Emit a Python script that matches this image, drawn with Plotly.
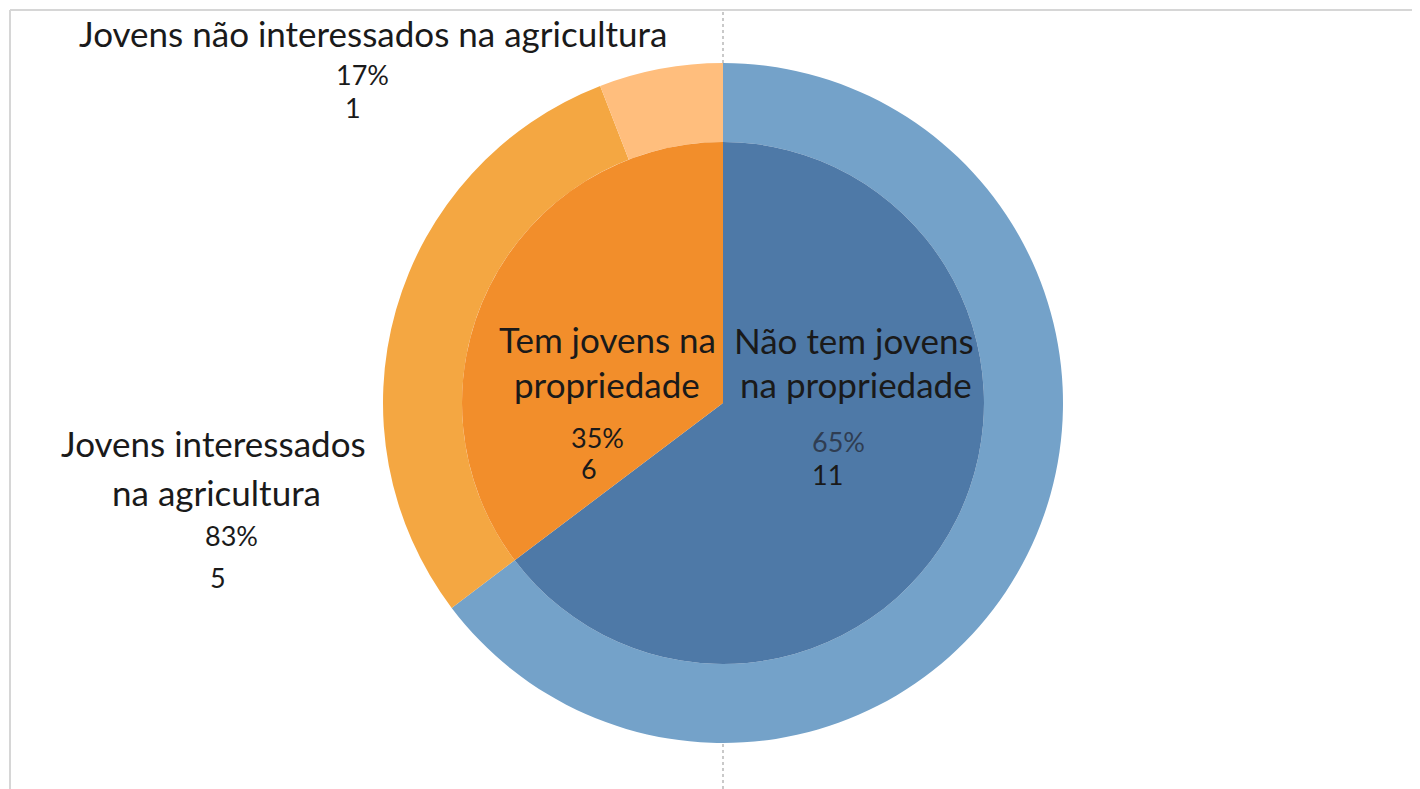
import plotly.graph_objects as go

# ---- data ----
inner_labels = ["Não tem jovens na propriedade", "Tem jovens na propriedade"]
inner_values = [11, 6]
outer_labels = ["Não tem jovens na propriedade", "Jovens interessados na agricultura",
                "Jovens não interessados na agricultura"]
outer_values = [11, 5, 1]
outer_parent_total = [11, 6, 6]

inner_colors = ["#4E79A7", "#F28E2B"]
outer_colors = ["#74A2C9", "#F4A742", "#FFBE7D"]

OFF = 8  # page body margin offset
W, H = 1420 - OFF, 789 - OFF
CX, CY = 723, 403
R_OUT, R_IN = 340, 261


def X(x):
    return (x - OFF) / W


def Y(y):
    return 1 - (y - OFF) / H


def px_dom(cx, cy, r):
    return dict(x=[X(cx - r), X(cx + r)], y=[Y(cy + r), Y(cy - r)])


fig = go.Figure()
fig.add_trace(go.Pie(
    labels=outer_labels, values=outer_values, sort=False, direction="clockwise",
    rotation=0, hole=R_IN / R_OUT, textinfo="none", hoverinfo="label+value",
    marker=dict(colors=outer_colors, line=dict(width=0)),
    domain=px_dom(CX, CY, R_OUT), showlegend=False,
))
fig.add_trace(go.Pie(
    labels=inner_labels, values=inner_values, sort=False, direction="clockwise",
    rotation=0, textinfo="none", hoverinfo="label+value",
    marker=dict(colors=inner_colors, line=dict(width=0)),
    domain=px_dom(CX, CY, R_IN), showlegend=False,
))

FONT = "Lato, 'Open Sans', sans-serif"
LBL = 35
NUM = 27
total = sum(inner_values)


def ann(text, x, y, size, color="#1a1a1a"):
    fig.add_annotation(text=text, x=X(x), y=Y(y), xref="paper", yref="paper",
                       showarrow=False, xanchor="center", yanchor="middle",
                       font=dict(family=FONT, size=size, color=color))


def pct(v, t):
    return f"{round(100 * v / t)}%"


def split2(label, k):
    w = label.split(" ")
    return " ".join(w[:k]), " ".join(w[k:])


# outer labels
ann(outer_labels[2], 373, 33, LBL)
ann(pct(outer_values[2], outer_parent_total[2]), 362, 74, NUM)
ann(str(outer_values[2]), 353, 107, NUM)

a, b = split2(outer_labels[1], 2)
ann(a, 213, 443, LBL)
ann(b, 216, 492, LBL)
ann(pct(outer_values[1], outer_parent_total[1]), 231, 535, NUM)
ann(str(outer_values[1]), 218, 577, NUM)

# inner labels
a, b = split2(inner_labels[1], 3)
ann(a, 607, 339, LBL)
ann(b, 607, 384, LBL)
ann(pct(inner_values[1], total), 597, 437, NUM)
ann(str(inner_values[1]), 589, 469, NUM)

a, b = split2(inner_labels[0], 3)
ann(a, 854, 340, LBL)
ann(b, 856, 384, LBL)
ann(pct(inner_values[0], total), 838, 441, NUM, "#2f3d52")
ann(str(inner_values[0]), 827, 474, NUM)

# frame lines and dotted guide
fig.add_shape(type="line", xref="paper", yref="paper", x0=X(10), x1=1, y0=Y(10), y1=Y(10),
              line=dict(color="#d6d6d6", width=2))
fig.add_shape(type="line", xref="paper", yref="paper", x0=X(10), x1=X(10), y0=0, y1=Y(10),
              line=dict(color="#d6d6d6", width=2))
fig.add_shape(type="line", xref="paper", yref="paper", x0=X(CX), x1=X(CX), y0=0, y1=Y(10),
              line=dict(color="#b8b8b8", width=1.5, dash="dot"), layer="below")

fig.update_layout(width=W, height=H, margin=dict(l=0, r=0, t=0, b=0),
                  paper_bgcolor="white", plot_bgcolor="white")
fig.write_html("out.html")
